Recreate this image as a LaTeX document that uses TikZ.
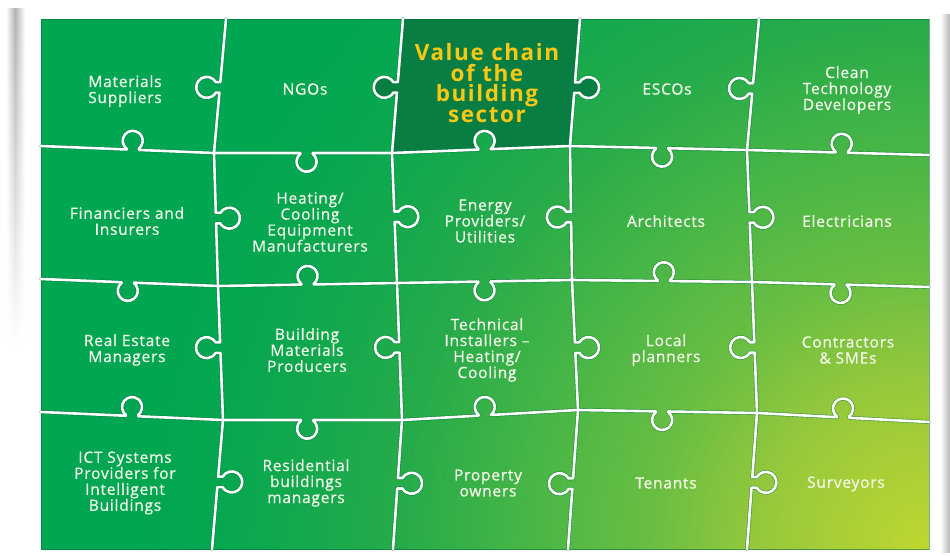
\documentclass[tikz,border=0pt]{standalone}
\usepackage{fontspec}
\setmainfont{Open Sans}
\usetikzlibrary{calc,fadings}
\definecolor{k0}{RGB}{190,215,48}
\definecolor{k1}{RGB}{150,200,60}
\definecolor{k2}{RGB}{105,190,66}
\definecolor{k3}{RGB}{72,182,70}
\definecolor{k4}{RGB}{38,171,74}
\definecolor{k5}{RGB}{8,167,80}
\definecolor{k6}{RGB}{0,166,81}
\definecolor{darkpiece}{RGB}{8,126,67}
\definecolor{titlec}{RGB}{248,200,20}
\definecolor{txtc}{RGB}{246,248,236}
\definecolor{edgec}{RGB}{0,105,55}
\pgfdeclareradialshading{puzrad}{\pgfpoint{0bp}{0bp}}{color(0bp)=(k0); color(3.54bp)=(k1); color(5.83bp)=(k2); color(8.33bp)=(k3); color(11.04bp)=(k4); color(14.58bp)=(k5); color(16.67bp)=(k6); color(50bp)=(k6)}
\tikzfading[name=southfade, top color=transparent!0, bottom color=transparent!100]
% knob path fragment: A, B, fraction t, direction phi, s (1 = knob left of travel, -1 = right), radius, half-angle, half neck width, neck length
\newcommand\kp[9]{-- ($(#1)!#3!(#2)!#8pt!(#1)$) -- ++(#4:#9pt) arc[start angle={#4+180-#7*(#5)}, end angle={#4+180-(360-#7)*(#5)}, radius=#6pt] -- ($(#1)!#3!(#2)!#8pt!(#2)$) -- (#2)}
\newcommand\kpH[5]{\kp{#1}{#2}{#3}{#4}{#5}{10}{38}{6.16}{0.8}}
\newcommand\kpV[5]{\kp{#1}{#2}{#3}{#4}{#5}{10.5}{30}{5.25}{4.5}}
\newcommand\ksegH[5]{\draw[segsty] (#1) \kpH{#1}{#2}{#3}{#4}{#5};}
\newcommand\ksegV[5]{\draw[segsty] (#1) \kpV{#1}{#2}{#3}{#4}{#5};}
\newcommand\allsegs{%
  \ksegV{c1t}{r1a}{.51}{180}{-1}\ksegV{r1a}{r2a}{.49}{0}{1}\ksegV{r2a}{r3a}{.46}{180}{-1}\ksegV{r3a}{c1b}{.48}{0}{1}%
  \ksegV{c2t}{r1b}{.51}{180}{-1}\ksegV{r1b}{r2b}{.49}{0}{1}\ksegV{r2b}{r3b}{.47}{180}{-1}\ksegV{r3b}{c2b}{.49}{0}{1}%
  \ksegV{c3t}{r1c}{.54}{0}{1}\ksegV{r1c}{r2c}{.53}{180}{-1}\ksegV{r2c}{r3c}{.52}{0}{1}\ksegV{r3c}{c3b}{.53}{180}{-1}%
  \ksegV{c4t}{r1d}{.53}{180}{-1}\ksegV{r1d}{r2d}{.51}{0}{1}\ksegV{r2d}{r3d}{.50}{180}{-1}\ksegV{r3d}{c4b}{.51}{0}{1}%
  \ksegH{r1l}{r1a}{.53}{90}{1}\ksegH{r1a}{r1b}{.52}{270}{-1}\ksegH{r1b}{r1c}{.52}{90}{1}\ksegH{r1c}{r1d}{.52}{270}{-1}\ksegH{r1d}{r1r}{.52}{90}{1}%
  \ksegH{r2l}{r2a}{.49}{270}{-1}\ksegH{r2a}{r2b}{.50}{90}{1}\ksegH{r2b}{r2c}{.50}{270}{-1}\ksegH{r2c}{r2d}{.51}{90}{1}\ksegH{r2d}{r2r}{.50}{270}{-1}%
  \ksegH{r3l}{r3a}{.50}{90}{1}\ksegH{r3a}{r3b}{.47}{270}{-1}\ksegH{r3b}{r3c}{.47}{90}{1}\ksegH{r3c}{r3d}{.47}{270}{-1}\ksegH{r3d}{r3r}{.50}{90}{1}%
}
\tikzset{
  outl/.style={draw=edgec, draw opacity=.55, line width=3.8pt, line cap=round, line join=round},
  whl/.style={draw=white, line width=2.6pt, line cap=round, line join=round},
  lbl/.style={text=txtc, align=center, inner sep=0pt, font=\fontsize{15.5}{16}\selectfont\addfontfeature{LetterSpace=5,FakeBold=0.5}},
  ttl/.style={text=titlec, align=center, inner sep=0pt, font=\fontsize{22.5}{20.5}\selectfont\bfseries\addfontfeature{LetterSpace=7}}
}
\begin{document}
\begin{tikzpicture}[x=1pt,y=1pt]
\fill[white] (0,0) rectangle (950,-555);
\useasboundingbox (0,0) rectangle (950,-555);
% page shadows
\shade[left color=white, right color=black!30, path fading=southfade] (6,-8) rectangle (15,-345);
\shade[left color=black!30, right color=white, path fading=southfade] (15,-8) rectangle (25,-345);
\shade[left color=white, right color=black!28] (940,-14) rectangle (950,-552);
% grid coordinates
\coordinate (TL) at (41,-19); \coordinate (TR) at (929,-19);
\coordinate (BL) at (41,-549); \coordinate (BR) at (929,-549);
\coordinate (c1t) at (226,-19); \coordinate (r1a) at (214,-153); \coordinate (r2a) at (218,-286); \coordinate (r3a) at (223,-420); \coordinate (c1b) at (212,-549);
\coordinate (c2t) at (403,-19); \coordinate (r1b) at (392,-153); \coordinate (r2b) at (397,-283); \coordinate (r3b) at (402,-420); \coordinate (c2b) at (393,-549);
\coordinate (c3t) at (580,-19); \coordinate (r1c) at (570,-146); \coordinate (r2c) at (572,-280); \coordinate (r3c) at (578,-410); \coordinate (c3b) at (568,-549);
\coordinate (c4t) at (759,-19); \coordinate (r1d) at (747,-150); \coordinate (r2d) at (752,-282); \coordinate (r3d) at (757,-413); \coordinate (c4b) at (747,-549);
\coordinate (r1l) at (41,-146); \coordinate (r1r) at (929,-155);
\coordinate (r2l) at (41,-279); \coordinate (r2r) at (929,-287);
\coordinate (r3l) at (41,-412); \coordinate (r3r) at (929,-422);
% background gradient (radial, brightest in the lower right corner)
\begin{scope}
\clip (TL) rectangle (BR);
\shade[shading=puzrad] (BR) circle[radius=1200];
\end{scope}
% dark centre piece
\fill[darkpiece] (c2t) -- (c3t) \kpV{c3t}{r1c}{.54}{0}{1} \kpH{r1c}{r1b}{.48}{90}{-1} \kpV{r1b}{c2t}{.49}{180}{1} -- cycle;
\draw[edgec, draw opacity=.5, line width=.8pt] (TL) rectangle (BR);
% puzzle lines
\tikzset{segsty/.style={outl}}\allsegs
\tikzset{segsty/.style={whl}}\allsegs
% labels
\node[lbl] (n11) at (125,-91) {Materials\\Suppliers};
\node[lbl] (n12) at (305,-89) {NGOs};
\node[ttl] (n13) at (487,-83) {Value chain\\of the\\building\\sector};
\node[lbl] (n14) at (667,-89) {ESCOs};
\node[lbl] (n15) at (847,-90) {Clean\\Technology\\Developers};
\node[lbl] (n21) at (127,-221) {Financiers and\\Insurers};
\node[lbl] (n22) at (310,-222) {Heating/\\Cooling\\Equipment\\Manufacturers};
\node[lbl] (n23) at (485,-221) {Energy\\Providers/\\Utilities};
\node[lbl] (n24) at (666,-221) {Architects};
\node[lbl] (n25) at (847,-221) {Electricians};
\node[lbl] (n31) at (127,-350) {Real Estate\\Managers};
\node[lbl] (n32) at (307,-350) {Building\\Materials\\Producers};
\node[lbl] (n33) at (487,-350) {Technical\\Installers –\\Heating/\\Cooling};
\node[lbl] (n34) at (666,-350) {Local\\planners};
\node[lbl] (n35) at (848,-350) {Contractors\\\& SMEs};
\node[lbl] (n41) at (125,-483) {ICT Systems\\Providers for\\Intelligent\\Buildings};
\node[lbl] (n42) at (306,-483) {Residential\\buildings\\managers};
\node[lbl] (n43) at (488,-483) {Property\\owners};
\node[lbl] (n44) at (666,-483) {Tenants};
\node[lbl] (n45) at (846,-484) {Surveyors};
\end{tikzpicture}
\end{document}
